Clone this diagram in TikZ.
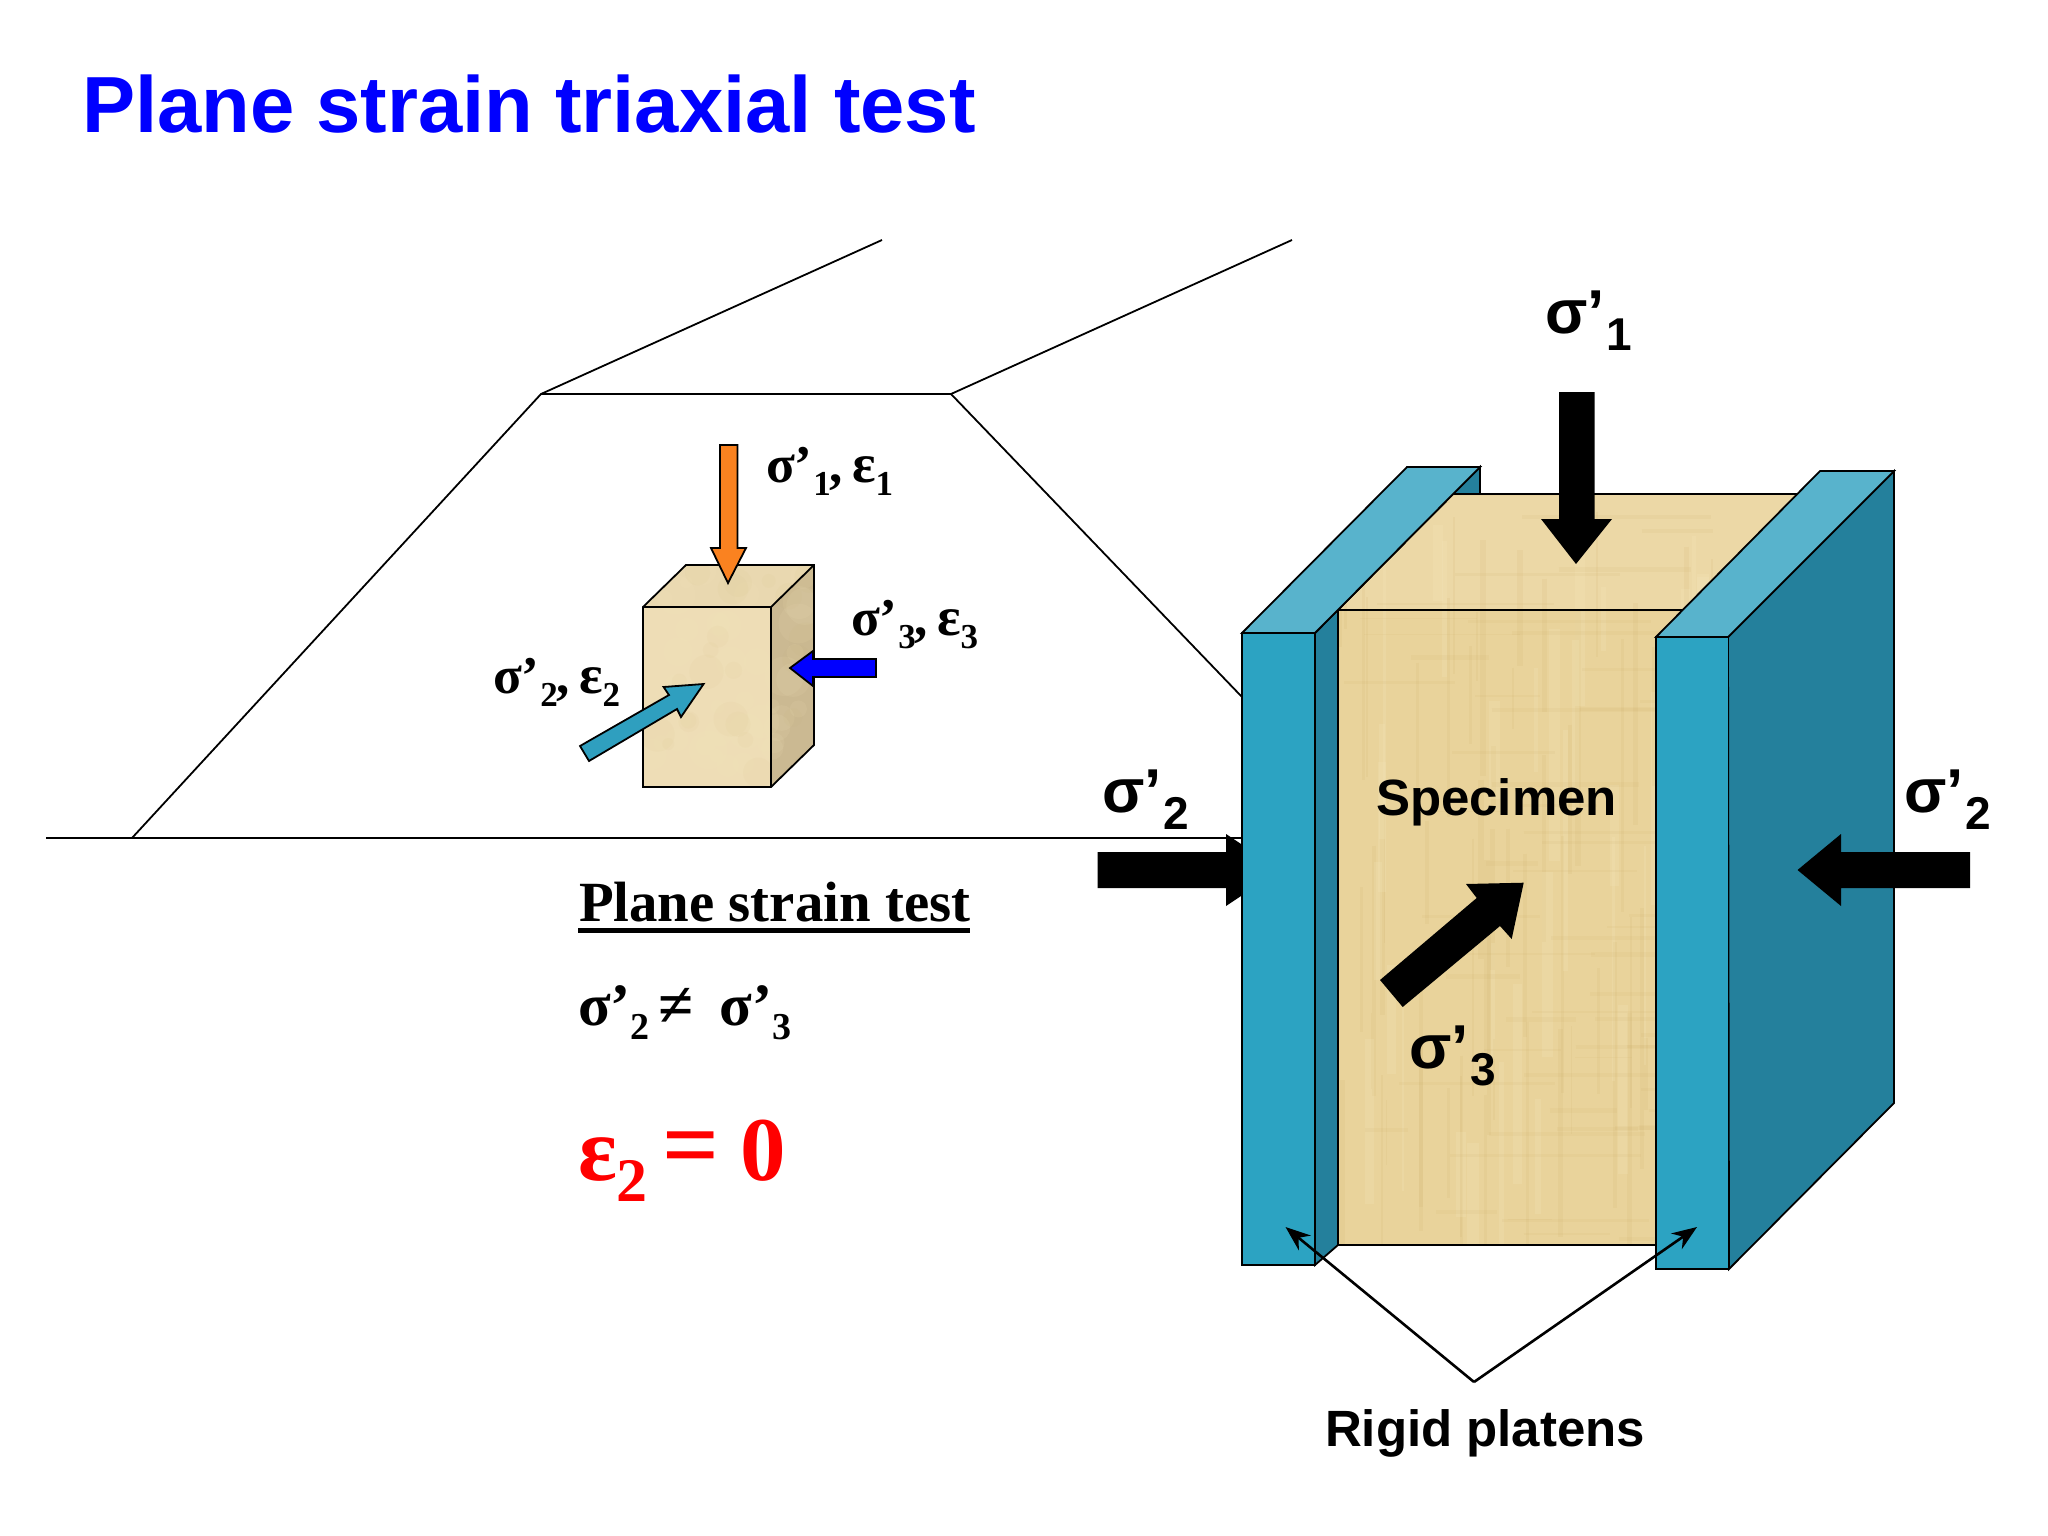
\documentclass[tikz,border=0pt]{standalone}
\usepackage{fontspec}
\setmainfont{Liberation Serif}
\setsansfont{Liberation Sans}
\usetikzlibrary{arrows.meta}
\definecolor{platefront}{HTML}{2CA3C2}
\definecolor{platetop}{HTML}{58B3CC}
\definecolor{plateside}{HTML}{24809C}
\definecolor{specfront}{HTML}{E9D39B}
\definecolor{spectop}{HTML}{ECD8A6}
\definecolor{streakdark}{HTML}{C9A860}
\definecolor{streaklight}{HTML}{F6E8BE}
\definecolor{cubefront}{HTML}{EEDDB6}
\definecolor{cubetop}{HTML}{E9D8B0}
\definecolor{cubeside}{HTML}{CBB992}
\definecolor{arroworange}{HTML}{FA8220}
\definecolor{arrowteal}{HTML}{2F9FBF}
\newcommand\fs[1]{\fontsize{#1}{#1}\selectfont}
\newcommand\serifsub[1]{\raisebox{-13pt}{\fs{35}#1}}
\newcommand\ineqsub[1]{\raisebox{-14pt}{\fs{38}#1}}
\newcommand\sanssub[1]{\raisebox{-17pt}{\fs{46}#1}}
\newcommand\sanssig[1]{{\sffamily\bfseries\fs{62}σ’\kern2pt\sanssub{#1}}}
\newcommand\strainlab[2]{{\bfseries\fs{53}σ’\kern1pt\serifsub{#1}\kern-1pt,\kern9pt\fs{55}ε\serifsub{#2}}}
\tikzset{
  txt/.style={anchor=base west,inner sep=0pt,outer sep=0pt,text=black},
  edge/.style={draw=black,line width=1.8pt,line join=round},
  thin outline/.style={draw=black,line width=1.8pt,line join=miter},
  big arrow/.style={fill=black,draw=none},
  pointer/.style={draw=black,line width=2.6pt,-{Stealth[length=25pt,width=19pt]}}
}
\begin{document}
\begin{tikzpicture}[x=1pt,y=-1pt]
\useasboundingbox (0,0) rectangle (2048,1536);
\fill[white] (0,0) rectangle (2048,1536);
% embankment
\draw[edge] (46,838) -- (1242,838);
\draw[edge] (132,838) -- (541,394) -- (951,394) -- (1242,697);
\draw[edge] (541,394) -- (882,240);
\draw[edge] (951,394) -- (1292,240);
% small cube
\fill[cubetop] (643,607) -- (686,565) -- (814,565) -- (771,607) -- cycle;
\fill[cubeside] (771,607) -- (814,565) -- (814,745) -- (771,787) -- cycle;
\fill[cubefront] (643,607) rectangle (771,787);
\begin{scope}
\clip (643,607) -- (686,565) -- (814,565) -- (814,745) -- (771,787) -- (643,787) -- cycle;
\pgfmathsetseed{271}
\foreach \i in {1,...,40}{
  \pgfmathsetmacro\xa{643+rnd*170}
  \pgfmathsetmacro\ya{565+rnd*220}
  \pgfmathsetmacro\ra{6+rnd*14}
  \fill[streaklight,opacity=0.1] (\xa,\ya) circle (\ra pt);
}
\foreach \i in {1,...,25}{
  \pgfmathsetmacro\xa{643+rnd*170}
  \pgfmathsetmacro\ya{565+rnd*220}
  \pgfmathsetmacro\ra{6+rnd*12}
  \fill[streakdark,opacity=0.04] (\xa,\ya) circle (\ra pt);
}
\end{scope}
\draw[thin outline] (643,607) -- (686,565) -- (814,565) -- (814,745) -- (771,787) -- (643,787) -- cycle;
\draw[thin outline] (643,607) -- (771,607) -- (814,565);
\draw[thin outline] (771,607) -- (771,787);
% small arrows
\filldraw[thin outline,fill=arroworange] (720,445) -- (737.5,445) -- (737.5,548) -- (746,548) -- (728,583) -- (711,548) -- (720,548) -- cycle;
\filldraw[thin outline,fill=blue] (876,659) -- (813,659) -- (813,651) -- (790,668) -- (813,686) -- (813,677) -- (876,677) -- cycle;
\filldraw[thin outline,fill=arrowteal] (580,746) -- (669,695) -- (663.6,687) -- (703.6,684) -- (681,717) -- (677,709) -- (589,761) -- cycle;
% specimen
\fill[spectop] (1338,610) -- (1453,494) -- (1798,494) -- (1682,610) -- cycle;
\fill[specfront] (1338,610) -- (1682,610) -- (1656,637) -- (1656,1245) -- (1338,1245) -- cycle;
\begin{scope}
\clip (1338,610) -- (1453,494) -- (1798,494) -- (1682,610) -- (1656,637) -- (1656,1245) -- (1338,1245) -- cycle;
\pgfmathsetseed{4711}
\foreach \i in {1,...,90}{
  \pgfmathsetmacro\xa{1338+rnd*460}
  \pgfmathsetmacro\ya{494+rnd*650}
  \pgfmathsetmacro\la{60+rnd*220}
  \pgfmathsetmacro\wa{1+rnd*5}
  \draw[streakdark,opacity=0.11,line width=\wa pt] (\xa,\ya) -- (\xa,\ya+\la);
}
\foreach \i in {1,...,60}{
  \pgfmathsetmacro\xa{1338+rnd*460}
  \pgfmathsetmacro\ya{494+rnd*650}
  \pgfmathsetmacro\la{60+rnd*200}
  \pgfmathsetmacro\wa{2+rnd*10}
  \draw[streaklight,opacity=0.2,line width=\wa pt] (\xa,\ya) -- (\xa,\ya+\la);
}
\foreach \i in {1,...,70}{
  \pgfmathsetmacro\xa{1338+rnd*400}
  \pgfmathsetmacro\ya{494+rnd*750}
  \pgfmathsetmacro\la{40+rnd*160}
  \pgfmathsetmacro\wa{1+rnd*4}
  \draw[streakdark,opacity=0.09,line width=\wa pt] (\xa,\ya) -- (\xa+\la,\ya);
}
\end{scope}
\draw[thin outline] (1453,494) -- (1798,494);
\draw[thin outline] (1338,610) -- (1682,610);
\draw[thin outline] (1338,610) -- (1338,1245) -- (1656,1245);
% left load arrow passes behind the platen
\fill[big arrow] (1097.5,852) -- (1226,852) -- (1226,834) -- (1280,870) -- (1226,906) -- (1226,888) -- (1097.5,888) -- cycle;
% left platen
\filldraw[thin outline,fill=plateside] (1315,633) -- (1480,467) -- (1480,494) -- (1453,494) -- (1338,610) -- (1338,1245) -- (1315,1265) -- cycle;
\filldraw[thin outline,fill=platetop] (1242,633) -- (1407,467) -- (1480,467) -- (1315,633) -- cycle;
\filldraw[thin outline,fill=platefront] (1242,633) rectangle (1315,1265);
% right platen
\filldraw[thin outline,fill=plateside] (1728,637) -- (1894,471) -- (1894,1103) -- (1729,1269) -- cycle;
\filldraw[thin outline,fill=platetop] (1656,637) -- (1820,471) -- (1894,471) -- (1728,637) -- cycle;
\filldraw[thin outline,fill=platefront] (1656,637) rectangle (1728.5,1269);
% big arrows
\fill[big arrow] (1559,392) -- (1594.5,392) -- (1594.5,519) -- (1612,519) -- (1576,564) -- (1541,519) -- (1559,519) -- cycle;
\fill[big arrow] (1970,852) -- (1841,852) -- (1841,834) -- (1797.5,870) -- (1841,906) -- (1841,888) -- (1970,888) -- cycle;
\fill[big arrow] (1380,980) -- (1476.7,898) -- (1466,884) -- (1523.7,882.7) -- (1511.7,939) -- (1500,926) -- (1402.7,1007) -- cycle;
% pointers
\coordinate (apex) at (1474,1382);
\coordinate (tipL) at (1285.5,1227);
\coordinate (tipR) at (1697,1227);
\draw[pointer] (apex) -- (tipL);
\draw[pointer] (apex) -- (tipR);
% texts
\node[txt,text=blue] (title) at (82,132) {\sffamily\bfseries\fs{79.6}Plane strain triaxial test};
\node[txt] (lab1) at (766,482) {\strainlab{1}{1}};
\node[txt] (lab3) at (851,635) {\strainlab{3}{3}};
\node[txt] (lab2) at (493,693) {\strainlab{2}{2}};
\node[txt] (testhead) at (579,921) {\bfseries\fs{56.8}Plane strain test};
\draw[line width=5pt] (578,930) -- (970,930);
\node[txt] (ineq) at (578,1025) {\bfseries\fs{60}σ’\ineqsub{2}\kern9pt\raisebox{-1pt}{\fs{64}≠}\kern26pt σ’\ineqsub{3}};
\node[txt,text=red] (eps) at (578,1180) {\bfseries\fs{91}ε\raisebox{-21pt}{\fs{62}2}\kern15pt\raisebox{2pt}{\fs{100}=}\kern21pt0};
\node[txt] (s1) at (1545,333) {\sanssig{1}};
\node[txt] (s2l) at (1102,812) {\sanssig{2}};
\node[txt] (s2r) at (1904,812) {\sanssig{2}};
\node[txt] (s3) at (1409,1068) {\sanssig{3}};
\node[txt] (spec) at (1376,815) {\sffamily\bfseries\fs{51}Specimen};
\node[txt] (rigid) at (1325,1446) {\sffamily\bfseries\fs{51}Rigid platens};
\end{tikzpicture}
\end{document}
